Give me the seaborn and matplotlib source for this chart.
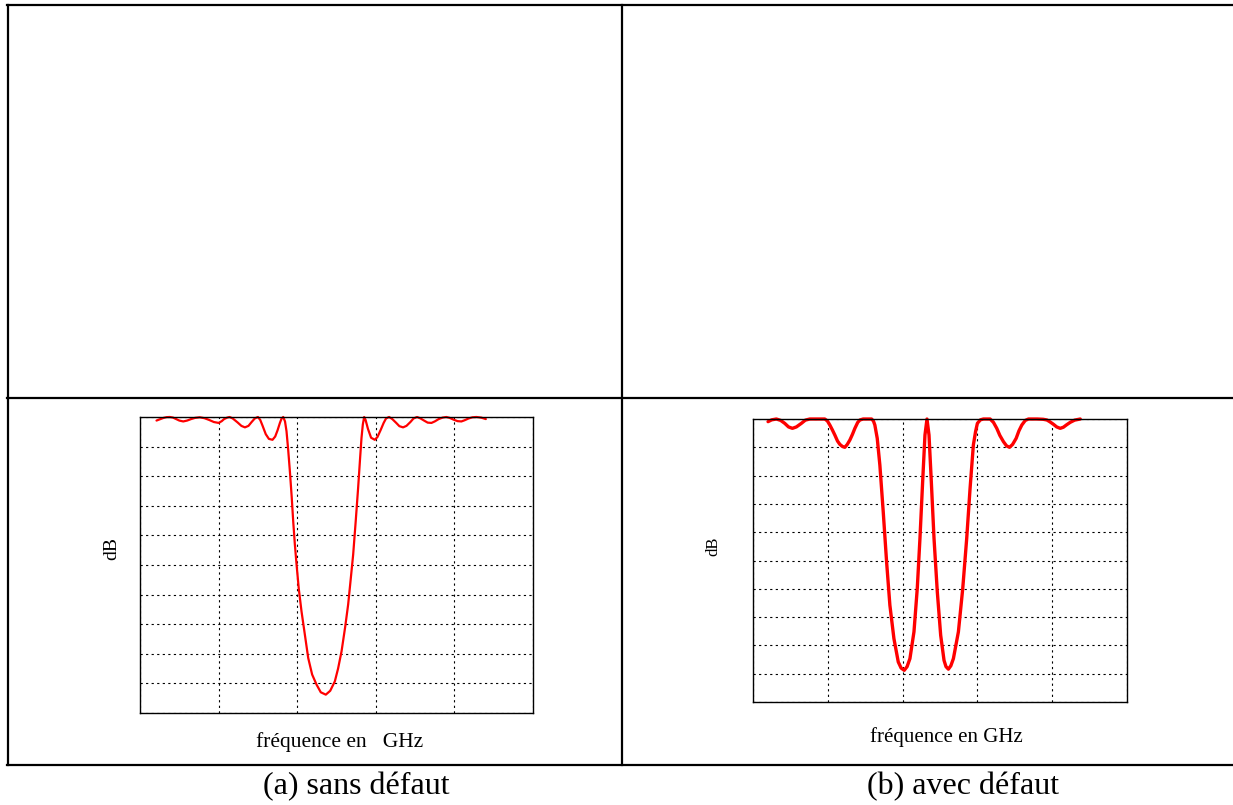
import matplotlib
matplotlib.use("Agg")
import matplotlib.pyplot as plt
from matplotlib.lines import Line2D
import seaborn as sns
import pandas as pd

sns.set_style("white")
plt.rcParams['font.family'] = ['Liberation Serif', 'DejaVu Serif']
plt.rcParams['text.color'] = 'black'

# ---------------- data (arbitrary units) ----------------
freq_a = [0.21, 0.26, 0.30, 0.34, 0.38, 0.42, 0.46, 0.50, 0.55, 0.60, 0.65, 0.70,
          0.76, 0.82, 0.88, 0.94, 1.00, 1.04, 1.07, 1.11, 1.14, 1.18, 1.24, 1.29,
          1.335, 1.38, 1.42, 1.46, 1.50, 1.53, 1.56, 1.60, 1.64, 1.686, 1.72, 1.75,
          1.78, 1.80, 1.822, 1.845, 1.864, 1.885, 1.907, 1.93, 1.949, 1.97, 1.992,
          2.02, 2.055, 2.10, 2.14, 2.19, 2.246, 2.30, 2.364, 2.42, 2.479, 2.52,
          2.564, 2.61, 2.648, 2.68, 2.712, 2.745, 2.775, 2.80, 2.818, 2.835, 2.852,
          2.87, 2.90, 2.94, 2.987, 3.02, 3.06, 3.10, 3.13, 3.169, 3.21, 3.26, 3.30,
          3.347, 3.39, 3.44, 3.48, 3.525, 3.57, 3.62, 3.66, 3.708, 3.75, 3.80, 3.85,
          3.898, 3.94, 3.99, 4.04, 4.089, 4.13, 4.18, 4.23, 4.28, 4.34, 4.40]
db_a = [-0.12, -0.07, -0.03, -0.005, 0.0, -0.02, -0.07, -0.12, -0.15, -0.12, -0.07, -0.03,
        -0.01, -0.04, -0.10, -0.17, -0.20, -0.14, -0.07, -0.02, 0.0, -0.05, -0.18, -0.30,
        -0.35, -0.30, -0.17, -0.05, 0.0, -0.10, -0.30, -0.58, -0.74, -0.77, -0.66, -0.45,
        -0.20, -0.06, 0.0, -0.15, -0.48, -1.10, -1.84, -2.70, -3.52, -4.30, -4.99,
        -5.80, -6.57, -7.40, -8.14, -8.70, -9.04, -9.30, -9.38, -9.25, -8.93, -8.50,
        -7.92, -7.10, -6.34, -5.50, -4.65, -3.50, -2.40, -1.40, -0.71, -0.25, 0.0,
        -0.10, -0.40, -0.70, -0.77, -0.68, -0.45, -0.20, -0.05, 0.0, -0.07, -0.20, -0.31,
        -0.35, -0.30, -0.17, -0.05, 0.0, -0.05, -0.13, -0.19, -0.20, -0.15, -0.07, -0.02,
        0.0, -0.03, -0.09, -0.14, -0.15, -0.11, -0.05, -0.01, 0.0, -0.02, -0.07]

freq_b = [0.201, 0.25, 0.3125, 0.37, 0.424, 0.475, 0.527, 0.58, 0.647, 0.70, 0.759,
          0.960, 0.995, 1.027, 1.06, 1.094, 1.13, 1.161, 1.195, 1.228, 1.26, 1.295,
          1.33, 1.362, 1.40, 1.429, 1.473, 1.585, 1.61, 1.629, 1.661, 1.696, 1.741,
          1.786, 1.830, 1.884, 1.942, 1.98, 2.022, 2.06, 2.098, 2.152, 2.196, 2.232,
          2.268, 2.299, 2.326, 2.353, 2.384, 2.42, 2.464, 2.509, 2.554, 2.58, 2.612,
          2.645, 2.679, 2.746, 2.804, 2.857, 2.902, 2.946, 2.975, 3.0, 3.04, 3.08,
          3.17, 3.215, 3.259, 3.30, 3.348, 3.39, 3.429, 3.47, 3.518, 3.555, 3.594,
          3.64, 3.683, 3.80, 3.88, 3.929, 3.97, 4.018, 4.06, 4.107, 4.15, 4.19, 4.241,
          4.30, 4.375]
db_b = [-0.094, -0.03, 0.0, -0.05, -0.153, -0.28, -0.33, -0.28, -0.153, -0.04, 0.0,
        0.0, -0.07, -0.212, -0.38, -0.566, -0.78, -0.896, -0.97, -1.0, -0.90, -0.743,
        -0.54, -0.33, -0.12, -0.035, 0.0, 0.0, -0.07, -0.212, -0.684, -1.627, -3.278,
        -5.047, -6.58, -7.76, -8.585, -8.80, -8.88, -8.75, -8.467, -7.52, -5.99, -4.22,
        -2.217, -0.566, 0.0, -0.566, -2.217, -4.22, -6.11, -7.64, -8.53, -8.75, -8.84,
        -8.72, -8.467, -7.52, -5.99, -4.22, -2.453, -0.92, -0.45, -0.153, -0.03, 0.0,
        0.0, -0.12, -0.33, -0.58, -0.80, -0.95, -1.0, -0.90, -0.684, -0.42, -0.212,
        -0.05, 0.0, 0.0, -0.01, -0.035, -0.10, -0.19, -0.28, -0.33, -0.29, -0.21, -0.118,
        -0.04, 0.0]

x_label_a = "fréquence en   GHz"
x_label_b = "fréquence en GHz"
y_label = "dB"
caption_a = "(a) sans défaut"
caption_b = "(b) avec défaut"

W, H = 1233, 805
fig = plt.figure(figsize=(W / 100, H / 100), dpi=100)


def fx(px):
    return px / W


def fy(py):
    return 1 - py / H


# ---------------- table frame ----------------
lw_tab = 1.6
for (x0, y0, x1, y1) in [(7, 5, 1233, 5), (7, 398.5, 1233, 398.5), (7, 765, 1233, 765),
                         (7.5, 5, 7.5, 765), (622, 5, 622, 765)]:
    fig.add_artist(Line2D([fx(x0), fx(x1)], [fy(y0), fy(y1)], color="black",
                          linewidth=lw_tab, solid_capstyle="projecting"))


def make_axes(l, t, r, b):
    return fig.add_axes([fx(l), fy(b), fx(r) - fx(l), fy(t) - fy(b)])


def style(ax):
    ax.set_xlim(0, 5)
    ax.set_ylim(-10, 0)
    ax.set_xticks([0, 1, 2, 3, 4, 5])
    ax.set_yticks(range(-10, 1))
    ax.tick_params(labelbottom=False, labelleft=False, length=3, direction="in",
                   color="black", width=0.8)
    ax.grid(True, color="black", linestyle=(0, (2, 3)), linewidth=0.8)
    for s in ax.spines.values():
        s.set_color("black")
        s.set_linewidth(1.0)
        s.set_visible(True)
    ax.set_xlabel("")
    ax.set_ylabel("")


ax_a = make_axes(140, 417, 533, 713)
df_a = pd.DataFrame({"f": freq_a, "dB": db_a})
sns.lineplot(data=df_a, x="f", y="dB", ax=ax_a, color="red", linewidth=1.6,
             sort=False, estimator=None, clip_on=False)
style(ax_a)

ax_b = make_axes(753, 419, 1127, 702)
df_b = pd.DataFrame({"f": freq_b, "dB": db_b})
sns.lineplot(data=df_b, x="f", y="dB", ax=ax_b, color="red", linewidth=2.4,
             sort=False, estimator=None, clip_on=False)
style(ax_b)

# ---------------- texts ----------------
fig.text(fx(112), fy(548), y_label, rotation=90, ha="center", va="center", fontsize=14)
fig.text(fx(713), fy(546), y_label, rotation=90, ha="center", va="center", fontsize=12)
fig.text(fx(340), fy(742), x_label_a, ha="center", va="center", fontsize=15.5)
fig.text(fx(946), fy(737), x_label_b, ha="center", va="center", fontsize=15)
fig.text(fx(356), fy(787), caption_a, ha="center", va="center", fontsize=23)
fig.text(fx(963), fy(787), caption_b, ha="center", va="center", fontsize=23)

fig.savefig("out.png", dpi=100)
